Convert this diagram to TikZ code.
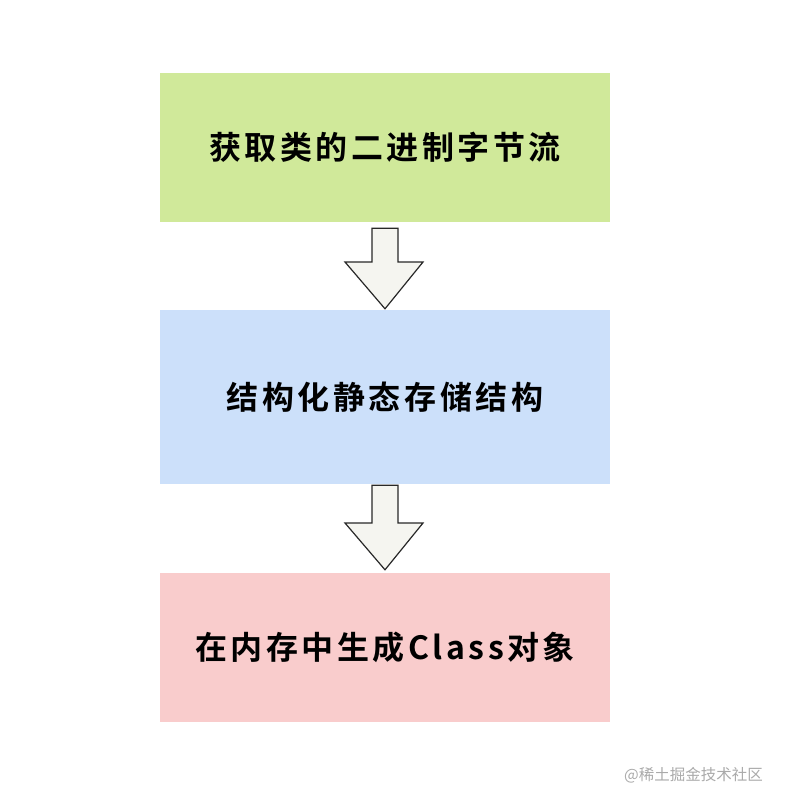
\documentclass[tikz,border=0pt]{standalone}
\usepackage{fontspec}
\newfontfamily\cjk[LetterSpace=11]{Noto Sans CJK SC Bold}
\newfontfamily\cjkwm{Noto Sans CJK SC}
\definecolor{gbox}{RGB}{208,233,154}
\definecolor{bbox}{RGB}{204,224,250}
\definecolor{pbox}{RGB}{249,204,204}
\definecolor{afill}{RGB}{245,245,240}
\definecolor{aline}{RGB}{40,40,40}
\definecolor{wmark}{RGB}{170,170,170}
\begin{document}
\begin{tikzpicture}[x=1pt,y=-1pt,
  stage/.style={fill=#1,draw=none,minimum width=450pt,inner sep=0pt,font=\cjk\fontsize{32}{32}\selectfont,text=black},
  downarrow/.style={fill=afill,draw=aline,line width=1.2pt,line join=miter}]
\useasboundingbox (0,0) rectangle (784,808);
\fill[white] (0,0) rectangle (784,808);
\node[stage=gbox,minimum height=149pt] (s1) at (385,147.5) {获取类的二进制字节流};
\node[stage=bbox,minimum height=174pt] (s2) at (385,397) {结构化静态存储结构};
\node[stage=pbox,minimum height=149pt] (s3) at (385,647.5) {在内存中生成Class对象};
% arrows between stages
\coordinate (a1t) at ([yshift=-6pt]s1.south);
\coordinate (a1b) at ([yshift=1pt]s2.north);
\draw[downarrow] ([xshift=-13pt]a1t) -- ([xshift=13pt]a1t) -- ([xshift=13pt]a1t |- 0,262) -- ([xshift=38pt]a1t |- 0,262) -- (a1b) -- ([xshift=-40pt]a1t |- 0,262) -- ([xshift=-13pt]a1t |- 0,262) -- cycle;
\coordinate (a2t) at ([yshift=-1pt]s2.south);
\coordinate (a2b) at ([yshift=3pt]s3.north);
\draw[downarrow] ([xshift=-13pt]a2t) -- ([xshift=13pt]a2t) -- ([xshift=13pt]a2t |- 0,523) -- ([xshift=38pt]a2t |- 0,523) -- (a2b) -- ([xshift=-40pt]a2t |- 0,523) -- ([xshift=-13pt]a2t |- 0,523) -- cycle;
\node[text=wmark,font=\cjkwm\fontsize{15.5}{16}\selectfont,anchor=east,inner sep=0pt] (wm) at (763,775) {@稀土掘金技术社区};
\end{tikzpicture}
\end{document}
